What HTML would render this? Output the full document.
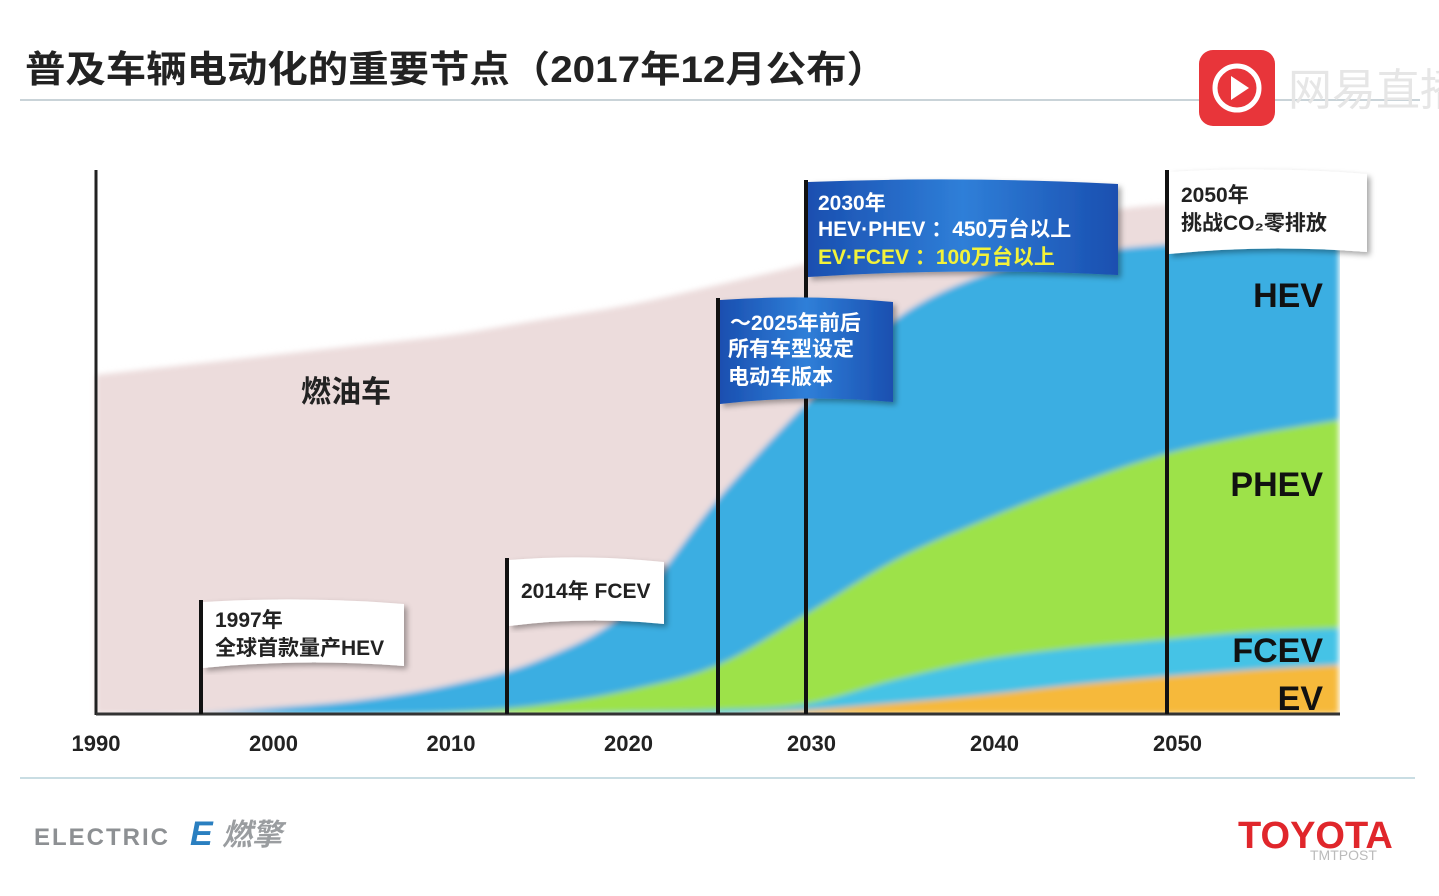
<!DOCTYPE html>
<html><head><meta charset="utf-8">
<style>
html,body{margin:0;padding:0;background:#fff;}
body{width:1439px;height:891px;overflow:hidden;position:relative;font-family:"Liberation Sans","Noto Sans CJK SC",sans-serif;}
svg text{font-family:"Liberation Sans","Noto Sans CJK SC",sans-serif;}
</style></head>
<body>
<svg id="chart" width="1439" height="891" viewBox="0 0 1439 891" xmlns="http://www.w3.org/2000/svg">
<defs>
<filter id="blur" x="-5%" y="-5%" width="110%" height="110%"><feGaussianBlur stdDeviation="3"/></filter>
<linearGradient id="blueflag" x1="0" y1="0" x2="1" y2="0">
<stop offset="0" stop-color="#1a4fb0"/><stop offset="0.5" stop-color="#2f7fd8"/><stop offset="1" stop-color="#1a4fb0"/></linearGradient>
<filter id="shadow"><feDropShadow dx="3" dy="3" stdDeviation="3" flood-opacity="0.35"/></filter>
</defs>
<text x="25" y="82" font-size="37" font-weight="bold" fill="#222" textLength="862" lengthAdjust="spacingAndGlyphs">普及车辆电动化的重要节点（2017年12月公布）</text>
<line x1="20" y1="100" x2="1420" y2="100" stroke="#c9d3d8" stroke-width="2"/>
<g>
<rect x="1199" y="50" width="76" height="76" rx="14" fill="#e8353a"/>
<circle cx="1237" cy="88" r="22" fill="none" stroke="#fff" stroke-width="5"/>
<polygon points="1231,76 1231,100 1249,88" fill="#fff"/>
<text x="1288" y="105" font-size="44" fill="#e6e6e6">网易直播</text>
</g>
<g id="areas" filter="url(#blur)"></g>
<g id="axes"></g>
<g id="poles"></g>
<g id="flags"></g>
<line x1="20" y1="778" x2="1415" y2="778" stroke="#c9dde3" stroke-width="2"/>
<g>
<text x="34" y="845" font-size="24" font-weight="bold" fill="#8d9093" letter-spacing="2">ELECTRIC</text>
<text x="190" y="845" font-size="34" font-weight="bold" font-style="italic" fill="#2a7fc0">E</text>
<text x="222" y="845" font-size="30" font-weight="bold" font-style="italic" fill="#9a9da0">燃擎</text>
</g>
<text x="1238" y="848" font-size="38" font-weight="bold" fill="#e0262b">TOYOTA</text>
<text x="1310" y="860" font-size="14" fill="#bbb">TMTPOST</text>
</svg>
<script>
const years=[1990,1995,2000,2005,2010,2015,2020,2025,2030,2035,2040,2045,2050,2055,2060];
const evVals   =[0,0,0,0,0,0,0,0,4,11,19,29,37,44,49];
const fcevVals =[0,0,0,0,0,0,2,4,6,23,35,37,37,38,37];
const phevVals =[0,0,0,0,2,9,22,45,90,120,140,163,185,197,208];
const hevVals  =[0,0,6,14,27,45,80,165,210,240,245,230,210,195,180];
const iceVals  =[339,349,353,355,350,340,305,215,140,80,50,40,40,35,25];
const xTicks=[1990,2000,2010,2020,2030,2040,2050];
const seriesLabels=["HEV","PHEV","FCEV","EV"];
const NS="http://www.w3.org/2000/svg";
const x=y=>96+(y-1990)*17.75;
const yS=v=>714-v;
function pathThrough(pts){
  let d="M"+pts[0][0]+","+pts[0][1];
  for(let i=0;i<pts.length-1;i++){
    const p0=pts[Math.max(0,i-1)],p1=pts[i],p2=pts[i+1],p3=pts[Math.min(pts.length-1,i+2)];
    const c1=[p1[0]+(p2[0]-p0[0])/6,p1[1]+(p2[1]-p0[1])/6];
    const c2=[p2[0]-(p3[0]-p1[0])/6,p2[1]-(p3[1]-p1[1])/6];
    d+=" C"+c1+" "+c2+" "+p2;
  }
  return d;
}
const stack=[["ev",evVals,"#f6b93a"],["fcev",fcevVals,"#45c3e6"],["phev",phevVals,"#9de24a"],["hev",hevVals,"#3aaee2"],["ice",iceVals,"#ecdcdc"]];
const cum=years.map(()=>0);
const layers=[];
stack.forEach(s=>{
  const lower=cum.slice();
  s[1].forEach((v,i)=>cum[i]+=v);
  layers.push([s,lower,cum.slice()]);
});
const areas=document.getElementById("areas");
layers.reverse().forEach(([s,lower,upper])=>{
  const top=years.map((yr,i)=>[x(yr),yS(upper[i])]);
  const p=document.createElementNS(NS,"path");
  p.setAttribute("d",pathThrough(top)+" L"+x(2060)+",714 L"+x(1990)+",714 Z");
  p.setAttribute("fill",s[2]);
  
  
  areas.appendChild(p);
});
const ax=document.getElementById("axes");
function add(tag,attrs,parent,text){const e=document.createElementNS(NS,tag);for(const k in attrs)e.setAttribute(k,attrs[k]);if(text)e.textContent=text;(parent||ax).appendChild(e);return e;}
add("rect",{x:1340,y:150,width:99,height:580,fill:"#fff"});
add("rect",{x:60,y:715,width:1300,height:20,fill:"#fff"});
const yAxis=add("line",{x1:96,y1:170,x2:96,y2:715,stroke:"#222","stroke-width":3});


const xAxis=add("line",{x1:96,y1:714,x2:1340,y2:714,stroke:"#333","stroke-width":3});


xTicks.forEach(t=>{
  const e=add("text",{x:x(t)+(t>=2030?(t-2020)*0.55:0),y:751,"font-size":22,"font-weight":"bold","text-anchor":"middle",fill:"#222"},ax,String(t));
  
  
});
const labY=[295,484,650,698];
seriesLabels.forEach((l,i)=>{
  const e=add("text",{x:1323,y:labY[i]+12,"font-size":34,"font-weight":"bold","text-anchor":"end",fill:"#111"},ax,l);
  
  
});
const ice=add("text",{x:346,y:402,"font-size":30,"font-weight":"bold","text-anchor":"middle",fill:"#222"},ax,"燃油车");


const fl=document.getElementById("flags");
const pl=document.getElementById("poles");
function flag(name,px,top,w,h,fill,lines,size){
  const pole=add("line",{x1:px,y1:top,x2:px,y2:714,stroke:"#111","stroke-width":4},pl);
  
  
  const g=add("g",{},fl);
  
  
  add("path",{d:`M${px+2},${top+2} Q${px+w/2},${top-4} ${px+w},${top+4} L${px+w},${top+h} Q${px+w/2},${top+h-8} ${px+2},${top+h+2} Z`,fill:fill,filter:"url(#shadow)"},g);
  add("line",{x1:px,y1:top,x2:px,y2:top+h+2,stroke:"#111","stroke-width":4},g);
  lines.forEach(l=>add("text",{x:px+l[0],y:top+l[1],"font-size":size,"font-weight":"bold",fill:l[3]||(fill==="#fff"?"#222":"#fff")},g,l[2]));
}
flag("flag-1997",201,600,203,66,"#fff",[[14,27,"1997年"],[14,55,"全球首款量产HEV"]],21);
flag("flag-2014",507,558,157,66,"#fff",[[14,40,"2014年 FCEV"]],21);
flag("flag-2030",806,180,312,95,"url(#blueflag)",[[12,30,"2030年"],[12,56,"HEV·PHEV ：450万台以上"],[12,84,"EV·FCEV  ：100万台以上","#f2f23a"]],21);
flag("flag-2025",718,298,175,104,"url(#blueflag)",[[12,32,"～2025年前后"],[10,58,"所有车型设定"],[10,86,"电动车版本"]],21);
flag("flag-2050",1167,170,200,82,"#fff",[[14,32,"2050年"],[14,60,"挑战CO₂零排放"]],21);
</script>
</body></html>
